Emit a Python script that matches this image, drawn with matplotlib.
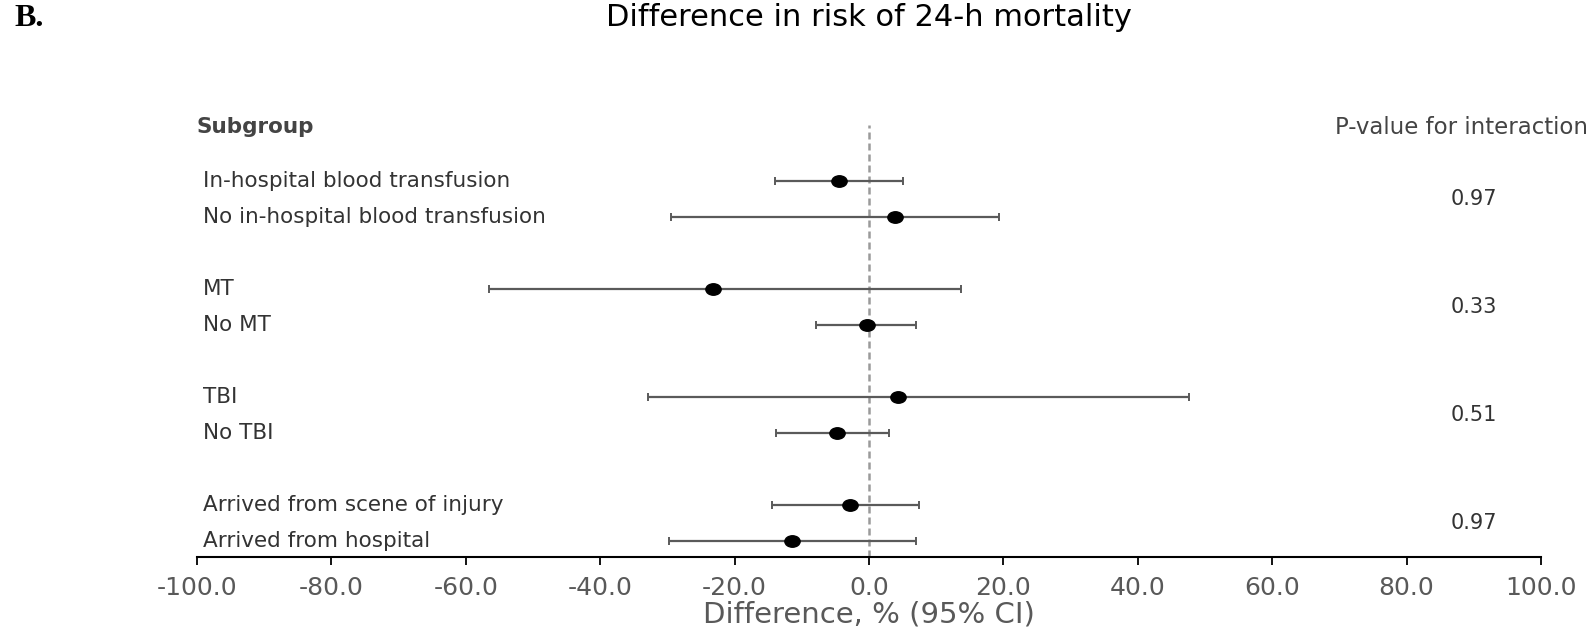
import matplotlib
matplotlib.use("Agg")
import matplotlib.pyplot as plt
import matplotlib.transforms as mtransforms
from matplotlib.path import Path
import numpy as np

labels = ["In-hospital blood transfusion", "No in-hospital blood transfusion",
          "MT", "No MT", "TBI", "No TBI",
          "Arrived from scene of injury", "Arrived from hospital"]
estimates = [-4.5, 3.9, -23.2, -0.3, 4.3, -4.8, -2.8, -11.5]
ci_low = [-14.0, -29.4, -56.5, -7.9, -32.9, -13.8, -14.5, -29.8]
ci_high = [5.1, 19.4, 13.7, 7.0, 47.6, 3.0, 7.4, 7.0]
p_values = ["0.97", "0.33", "0.51", "0.97"]
xticks = [-100, -80, -60, -40, -20, 0, 20, 40, 60, 80, 100]

# row slots: pairs separated by a blank slot
slots = [0, 1, 3, 4, 6, 7, 9, 10]

W, H = 1594, 634
fig = plt.figure(figsize=(W / 100, H / 100), dpi=100)
ax_left, ax_right = 197, 1541
ax_top, ax_bot = 120, 557
ax = fig.add_axes([ax_left / W, 1 - ax_bot / H, (ax_right - ax_left) / W, (ax_bot - ax_top) / H])

slot_px = 36.0
y_top = (ax_top - 181) / slot_px
y_bot = 10 + (ax_bot - 541) / slot_px
ax.set_ylim(y_bot, y_top)
ax.set_xlim(-100, 100)

# reference line
ax.plot([0, 0], [y_bot, -1.56], color="#9a9a9a", lw=1.8, linestyle=(0, (2.8, 1.6)), zorder=1)

ell = Path.unit_circle()
ell = Path(ell.vertices * np.array([1.0, 0.75]), ell.codes)

est = np.array(estimates)
lo = np.array(ci_low)
hi = np.array(ci_high)
ax.errorbar(est, slots, xerr=[est - lo, hi - est], fmt="none", ecolor="#5a5a5a",
            elinewidth=1.6, capsize=3.0, capthick=1.4, zorder=2)
ax.plot(est, slots, linestyle="none", marker=ell, markersize=11, color="black", zorder=3)

trans = mtransforms.blended_transform_factory(ax.transAxes, ax.transData)
for lab, s in zip(labels, slots):
    ax.text(0.0045, s, lab, transform=trans, ha="left", va="center",
            fontsize=15.5, color="#333333", family="DejaVu Sans")

ax.text(-0.0007, -1.5, "Subgroup", transform=trans, ha="left", va="center",
        fontsize=15.5, fontweight="bold", color="#444444", family="DejaVu Sans")
ax.text(0.941, -1.5, "P-value for interaction", transform=trans, ha="center", va="center",
        fontsize=16.5, color="#444444", family="DejaVu Sans", clip_on=False)
for i, p in enumerate(p_values):
    ax.text(0.950, slots[2 * i] + 0.5, p, transform=trans, ha="center", va="center",
            fontsize=15, color="#333333", family="DejaVu Sans")

for sp in ["top", "left", "right"]:
    ax.spines[sp].set_visible(False)
ax.spines["bottom"].set_linewidth(1.5)
ax.spines["bottom"].set_color("black")
ax.set_yticks([])
ax.set_xticks(xticks)
ax.set_xticklabels([f"{v:.1f}" for v in xticks], fontsize=18, color="#595959", family="DejaVu Sans")
ax.tick_params(axis="x", direction="out", length=6, width=1.3, pad=8, color="black")
ax.set_xlabel("Difference, % (95% CI)", fontsize=21, color="#595959", labelpad=0, family="DejaVu Sans")

fig.text(869 / W, 1 - 18 / H, "Difference in risk of 24-h mortality", ha="center", va="center",
         fontsize=22, color="black", family="DejaVu Sans")
fig.text(14 / W, 1 - 18 / H, "B.", ha="left", va="center", fontsize=23,
         fontweight="bold", color="black", family="Liberation Serif")

fig.savefig("out.png", dpi=100)
